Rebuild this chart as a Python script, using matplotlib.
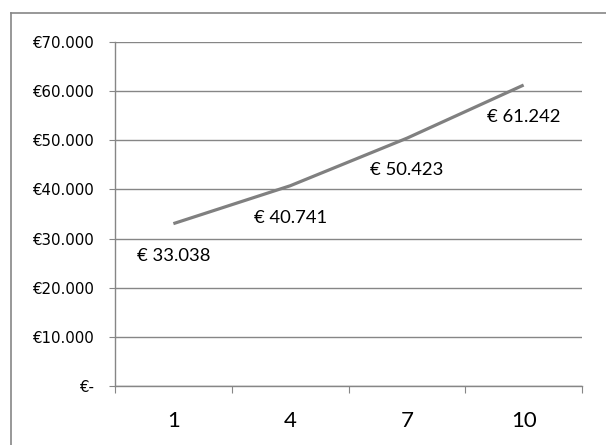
import matplotlib
matplotlib.use('Agg')
import matplotlib.pyplot as plt
from matplotlib.lines import Line2D
from matplotlib.ticker import FuncFormatter

# waarden uit de grafiek
categories = ['1', '4', '7', '10']
values = [33038, 40741, 50423, 61242]
y_ticks = [0, 10000, 20000, 30000, 40000, 50000, 60000, 70000]

grey = '#868686'


def euro(v, pos=None):
    if v == 0:
        return '€-'
    return '€' + '{:,.0f}'.format(v).replace(',', '.')


def euro_label(v):
    return '€ ' + '{:,.0f}'.format(v).replace(',', '.')


fig = plt.figure(figsize=(6.06, 4.45), dpi=100)
ax = fig.add_axes([115 / 606, 1 - 386 / 445, 467 / 606, 344 / 445])

x = list(range(len(categories)))
ax.plot(x, values, color='#808080', linewidth=2.3, solid_capstyle='butt')

for xi, v in zip(x, values):
    ax.annotate(euro_label(v), (xi, v), xytext=(0, -32), textcoords='offset pixels',
                ha='center', va='center', fontsize=13.3, family='Lato')

ax.set_xlim(-0.5, len(categories) - 0.5)
ax.set_ylim(0, 70000)

# kategorie-grenzen als ticks, labels in het midden
ax.set_xticks([i - 0.5 for i in range(len(categories) + 1)])
ax.set_xticklabels([])
ax.set_xticks(x, minor=True)
ax.set_xticklabels(categories, minor=True, fontsize=16, family='Lato')
ax.tick_params(axis='x', which='major', length=5, color=grey, direction='out')
ax.tick_params(axis='x', which='minor', length=0, pad=18)

ax.set_yticks(y_ticks)
ax.yaxis.set_major_formatter(FuncFormatter(euro))
ax.tick_params(axis='y', length=4.3, color=grey, pad=11, labelsize=10.8)
ax.grid(axis='y', color=grey, linewidth=1)
ax.set_axisbelow(True)

for s in ['top', 'right']:
    ax.spines[s].set_visible(False)
for s in ['left', 'bottom']:
    ax.spines[s].set_color(grey)
    ax.spines[s].set_linewidth(1)

# rand rond de grafiek (alleen links en boven zichtbaar)
fig.add_artist(Line2D([10.5 / 606, 10.5 / 606], [0, 1 - 12.5 / 445], color=grey, linewidth=1.2))
fig.add_artist(Line2D([10.5 / 606, 1], [1 - 12.5 / 445, 1 - 12.5 / 445], color=grey, linewidth=1.2))

fig.savefig('out.png', dpi=100)
